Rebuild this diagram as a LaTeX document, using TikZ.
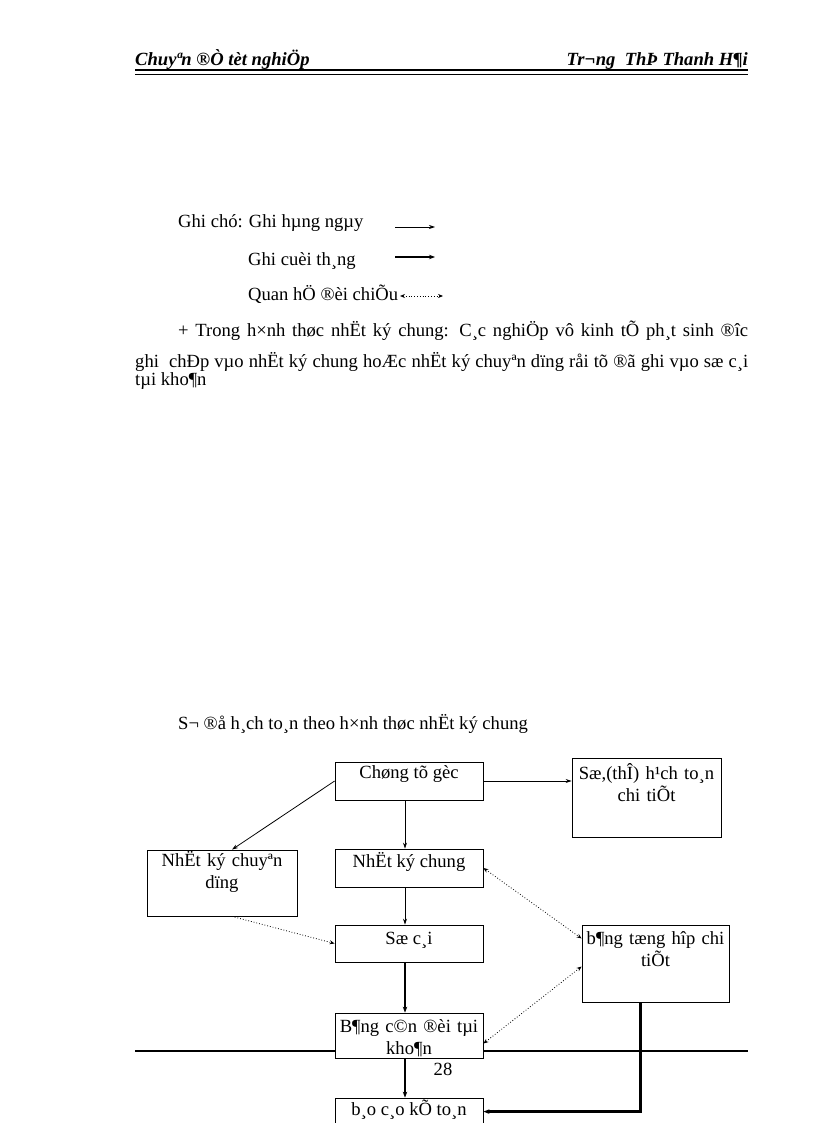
\documentclass[tikz,border=0pt]{standalone}
\usepackage{fontspec}
\setmainfont{Liberation Serif}
\usetikzlibrary{calc,positioning,arrows.meta}

\tikzset{
  hop/.style={draw,line width=0.8,fill=white,inner sep=0},
  chu/.style={inner sep=0,anchor=base,align=center},
  tay/.style={-{Stealth[length=6pt,width=4pt]},line width=0.8},
  dam/.style={-{Stealth[length=6pt,width=4.5pt]},line width=2.4},
  cham/.style={{Stealth[length=5pt,width=4pt]}-{Stealth[length=5pt,width=4pt]},line width=0.8,dotted},
  chammot/.style={-{Stealth[length=5pt,width=4pt]},line width=0.8,dotted},
}

\begin{document}
\begin{tikzpicture}[x=1pt,y=-1pt,font=\fontsize{18.6}{22}\selectfont]
			\clip (0,0) rectangle (816,1123);
			\fill[white] (0,0) rectangle (816,1123);
			%dau trang
			\node[chu,anchor=base west,font=\fontsize{18.6}{22}\selectfont\bfseries\itshape] (dautrai) at (135,66) {Chuyªn ®Ò tèt nghiÖp};
			\node[chu,anchor=base east,font=\fontsize{18.6}{22}\selectfont\bfseries\itshape] (dauphai) at (748,66) {Tr¬ng\ \ ThÞ Thanh H¶i};
			\draw[line width=2] (135,70) -- (748,70);
			\draw[line width=0.7] (135,74) -- (748,74);
			%ghi chu
			\node[chu,anchor=base west] (hangngay) at (178,228) {Ghi chó: Ghi hµng ngµy};
			\node[chu,anchor=base west] (cuoithang) at (248,265) {Ghi cuèi th¸ng};
			\node[chu,anchor=base west] (doichieu) at (248,300) {Quan hÖ ®èi chiÕu};
			\coordinate (a1) at (395,227);
			\coordinate (b1) at (435,227);
			\coordinate (a2) at (395,257);
			\coordinate (b2) at (435,257);
			\coordinate (a3) at (400,296);
			\coordinate (b3) at (443,296);
			\draw[tay] (a1) -- (b1);
			\draw[dam] (a2) -- (b2);
			\draw[cham] (a3) -- (b3);
			%doan van
			\node[chu,anchor=base west] (dong1) at (178,336) {\makebox[570pt][s]{+ Trong h×nh thøc nhËt ký chung: C¸c nghiÖp vô kinh tÕ ph¸t sinh ®îc}};
			\node[chu,anchor=base west] (dong2) at (135,367) {\makebox[613pt][s]{ghi\ \ chÐp vµo nhËt ký chung hoÆc nhËt ký chuyªn dïng råi tõ ®ã ghi vµo sæ c¸i}};
			\node[chu,anchor=base west] (dong3) at (135,385) {tµi kho¶n};
			%so do
			\node[chu,anchor=base west] (tieude) at (178,729) {S¬ ®å h¸ch to¸n theo h×nh thøc nhËt ký chung};
			\draw[line width=2.6] (135,1051) -- (748,1051);
			\node[chu] (trang) at (443,1075) {28};
			\node[hop,minimum width=148pt,minimum height=38pt] (goc) at (409,781) {};
			\node[hop,minimum width=149pt,minimum height=79pt] (sothe) at (646.5,797.5) {};
			\node[hop,minimum width=150pt,minimum height=66pt] (nkcd) at (222,883) {};
			\node[hop,minimum width=148pt,minimum height=38pt] (nkc) at (409,868) {};
			\node[hop,minimum width=148pt,minimum height=37pt] (socai) at (409,943.5) {};
			\node[hop,minimum width=147pt,minimum height=77pt] (tonghop) at (655.5,963.5) {};
			\node[hop,minimum width=148pt,minimum height=45pt] (cando) at (409,1035.5) {};
			\node[hop,minimum width=148pt,minimum height=42pt] (baocao) at (409,1119) {};
			%chu trong hop
			\node[chu] (goc-t) at ($(goc.north)+(0,17)$) {Chøng tõ gèc};
			\node[chu,text width=145pt] (sothe-t) at ($(sothe.north)+(0,22)$) {Sæ,(thÎ) h¹ch to¸n\\chi tiÕt};
			\node[chu,text width=145pt] (nkcd-t) at ($(nkcd.north)+(0,17)$) {NhËt ký chuyªn\\dïng};
			\node[chu] (nkc-t) at ($(nkc.north)+(0,19)$) {NhËt ký chung};
			\node[chu] (socai-t) at ($(socai.north)+(0,20)$) {Sæ c¸i};
			\node[chu,text width=145pt] (tonghop-t) at ($(tonghop.north)+(0,20)$) {b¶ng tæng hîp chi\\tiÕt};
			\node[chu,text width=145pt] (cando-t) at ($(cando.north)+(0,20)$) {B¶ng c©n ®èi tµi\\kho¶n};
			\node[chu] (baocao-t) at ($(baocao.north)+(0,18)$) {b¸o c¸o kÕ to¸n};
			%mui ten
			\draw[tay] (goc.east) -- (goc.east -| sothe.west);
			\draw[tay] (goc.west) -- ($(nkcd.north)+(10,0)$);
			\draw[tay] ($(goc.south)+(-4,0)$) -- ($(nkc.north)+(-4,0)$);
			\draw[tay] ($(nkc.south)+(-4,0)$) -- ($(socai.north)+(-4,0)$);
			\draw[chammot] ($(nkcd.south)+(10,0)$) -- (socai.west);
			\draw[cham] (nkc.east) -- ($(tonghop.west)+(0,-25)$);
			\draw[cham] ($(tonghop.west)+(0,3)$) -- ($(cando.east)+(0,8)$);
			\draw[dam] ($(socai.south)+(-4,0)$) -- ($(cando.north)+(-4,0)$);
			\draw[dam,line width=1.6] ($(cando.south)+(-4,0)$) -- ($(baocao.north)+(-4,0)$);
			\draw[dam] ($(tonghop.south)+(-15,0)$) |- ($(baocao.north east)+(0,14)$);
		\end{tikzpicture}
\end{document}
